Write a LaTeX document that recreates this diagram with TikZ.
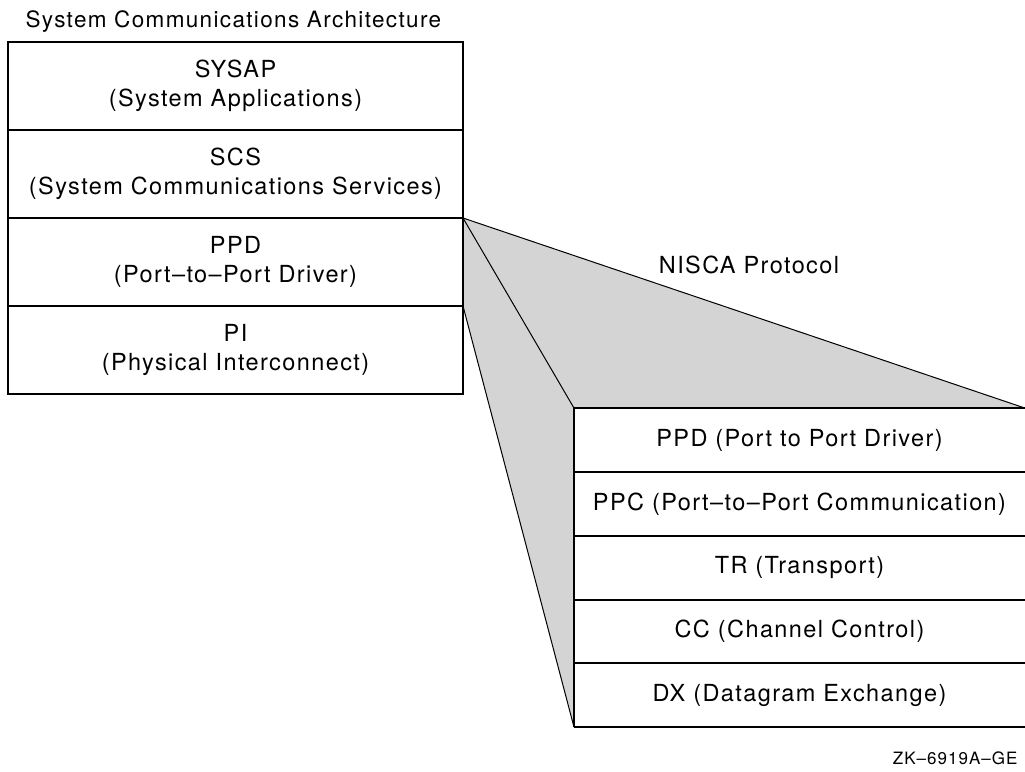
\documentclass[tikz,border=0pt]{standalone}
\usepackage{xcolor}
\usepackage{fontspec}
\setmainfont{TeX Gyre Heros}[LetterSpace=6]
\usepackage{tikz}
\usetikzlibrary{positioning,backgrounds}
\definecolor{wedgegray}{HTML}{D4D4D4}

\begin{document}
\begin{tikzpicture}[x=1pt, y=-1pt,
  layer/.style={draw, line width=2pt, outer sep=0pt, inner sep=0pt, align=center,
    minimum width=455pt, minimum height=88pt, font=\fontsize{23.5}{29}\selectfont},
  nisca/.style={outer sep=0pt, inner sep=0pt, align=center,
    minimum width=451pt, minimum height=63.8pt, font=\fontsize{23.5}{29}\selectfont},
  wedge/.style={line width=1pt}]
\useasboundingbox (0,0) rectangle (1025,771);
\node[anchor=west, font=\fontsize{22.5}{26}\selectfont] (sca) at (22,22) {System Communications Architecture};
% left stack
\node[layer] (sysap) at (235.5,86) {SYSAP\\(System Applications)};
\node[layer, below=0pt of sysap] (scs) {SCS\\(System Communications Services)};
\node[layer, below=0pt of scs] (ppd) {PPD\\(Port--to--Port Driver)};
\node[layer, below=0pt of ppd] (pi) {PI\\(Physical Interconnect)};
% NISCA stack
\node[nisca] (nppd) at (799.5,440) {PPD (Port to Port Driver)};
\node[nisca, below=0pt of nppd] (nppc) {PPC (Port--to--Port Communication)};
\node[nisca, below=0pt of nppc] (ntr) {TR (Transport)};
\node[nisca, below=0pt of ntr] (ncc) {CC (Channel Control)};
\node[nisca, below=0pt of ncc] (ndx) {DX (Datagram Exchange)};
\begin{scope}[on background layer]
\fill[wedgegray] (ppd.north east) -- (nppd.north east) -- (nppd.north west) -- (ndx.south west) -- (ppd.south east) -- cycle;
\end{scope}
\draw[wedge] (ppd.north east) -- (nppd.north east);
\draw[wedge] (ppd.north east) -- (nppd.north west);
\draw[wedge] (ppd.south east) -- (ndx.south west);
\foreach \n in {nppd,nppc,ntr,ncc,ndx}
  \draw[line width=2pt] (\n.north west) -- (\n.north east);
\draw[line width=2pt] (ndx.south west) -- (ndx.south east);
\draw[line width=2pt] (nppd.north west) -- (ndx.south west);
\node[font=\fontsize{23.5}{29}\selectfont] (proto) at (749,265) {NISCA Protocol};
\node[anchor=east, font=\fontsize{17}{21}\selectfont] (zk) at (1021,758) {ZK--6919A--GE};
\end{tikzpicture}
\end{document}
